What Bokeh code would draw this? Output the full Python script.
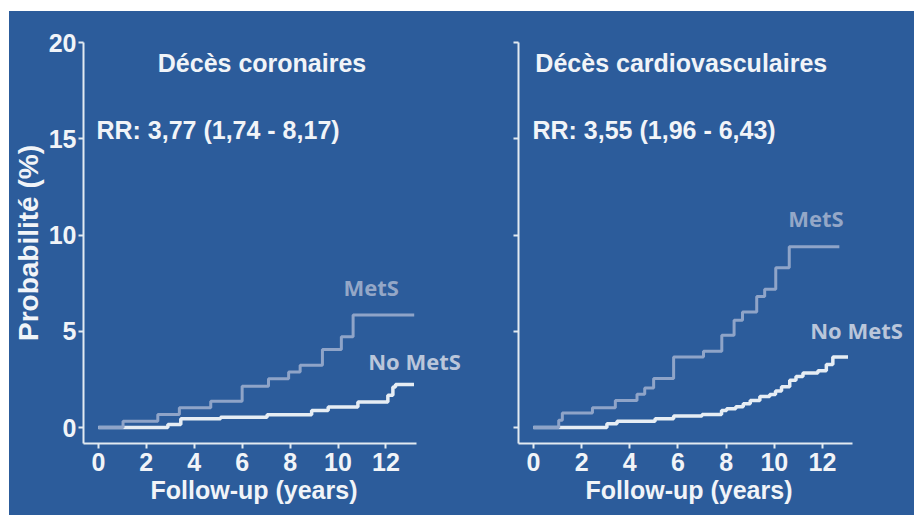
from bokeh.plotting import figure
from bokeh.layouts import row
from bokeh.models import FixedTicker, Label, Range1d, Title
from bokeh.embed import file_html
from bokeh.resources import INLINE

# ---------------- data ----------------
x_ticks = [0, 2, 4, 6, 8, 10, 12]
y_ticks = [0, 5, 10, 15, 20]

# Left panel: Décès coronaires
cor_mets_t = [0, 1.03, 2.48, 3.38, 4.69, 6.0, 7.1, 7.94, 8.42, 9.35, 10.14, 10.63, 13.18]
cor_mets_p = [0, 0.33, 0.68, 1.03, 1.37, 2.15, 2.53, 2.88, 3.23, 4.05, 4.72, 5.84, 5.84]
cor_nomets_t = [0, 2.9, 3.44, 5.1, 7.04, 8.9, 9.59, 10.83, 12.08, 12.29, 12.4, 13.17]
cor_nomets_p = [0, 0.16, 0.45, 0.54, 0.66, 0.89, 1.06, 1.32, 1.67, 2.1, 2.24, 2.24]

# Right panel: Décès cardiovasculaires
cv_mets_t = [0, 1.05, 1.2, 2.45, 3.4, 4.3, 4.62, 4.99, 5.82, 7.06, 7.82, 8.33, 8.68, 9.27, 9.6, 10.06, 10.62, 12.7]
cv_mets_p = [0, 0.38, 0.76, 1.03, 1.41, 1.73, 2.05, 2.55, 3.66, 3.96, 4.79, 5.57, 6.0, 6.8, 7.18, 8.3, 9.39, 9.39]
cv_nomets_t = [0, 3.05, 3.47, 5.05, 5.82, 7.0, 7.81, 8.02, 8.4, 8.71, 9.0, 9.4, 9.81, 10.05, 10.3, 10.64, 10.9, 11.19, 11.81, 12.16, 12.43, 13.06]
cv_nomets_p = [0, 0.2, 0.33, 0.45, 0.6, 0.68, 0.89, 0.97, 1.08, 1.23, 1.4, 1.61, 1.72, 1.9, 2.12, 2.45, 2.65, 2.83, 2.95, 3.28, 3.66, 3.66]

titles = ["Décès coronaires", "Décès cardiovasculaires"]
rr_texts = ["RR: 3,77 (1,74 - 8,17)", "RR: 3,55 (1,96 - 6,43)"]
group_labels = ["MetS", "No MetS"]
x_label = "Follow-up (years)"
y_label = "Probabilité (%)"

# ---------------- style ----------------
BG = "#2C5C9B"
AXIS = "#E2EAF1"
TXT = "#F1F4F8"
METS_LINE = "#8FA4C8"
NOMETS_LINE = "#E6EDF4"
METS_LBL = "#94A7C7"
NOMETS_LBL = "#BAC6DA"
FONT = "Liberation Sans"
H = 504
X_AXIS_END = 13.26


def make_panel(width, left, x_end, show_ylabels):
    p = figure(width=width, height=H, output_backend="svg", toolbar_location=None,
               x_range=Range1d(-0.62, x_end), y_range=Range1d(-0.83, 20.0),
               min_border_left=left, min_border_right=0,
               min_border_top=31, min_border_bottom=72)
    p.background_fill_color = None
    p.border_fill_color = BG
    p.outline_line_color = None
    p.grid.visible = False
    for ax in (p.xaxis[0], p.yaxis[0]):
        ax.axis_line_color = AXIS
        ax.axis_line_width = 2
        ax.major_tick_line_color = AXIS
        ax.major_tick_line_width = 2
        ax.major_tick_in = 0
        ax.major_tick_out = 5
        ax.minor_tick_line_color = None
        ax.major_label_text_color = TXT
        ax.major_label_text_font = FONT
        ax.major_label_text_font_style = "bold"
        ax.major_label_text_font_size = "25px"
        ax.axis_label_text_color = TXT
        ax.axis_label_text_font = FONT
        ax.axis_label_text_font_style = "bold"
        ax.axis_label_text_font_size = "25px"
    p.xaxis.bounds = (-0.62, X_AXIS_END)
    p.xaxis.ticker = FixedTicker(ticks=x_ticks)
    p.yaxis.ticker = FixedTicker(ticks=y_ticks)
    p.xaxis.major_label_standoff = 4
    p.add_layout(Title(text=x_label, align="left", offset=67, standoff=0,
                       text_font=FONT, text_font_style="bold", text_font_size="25px",
                       text_color=TXT), "below")
    if show_ylabels:
        p.yaxis.axis_label = y_label
        p.yaxis.axis_label_text_font_size = "28px"
        p.yaxis.major_label_standoff = 2
        p.yaxis.axis_label_standoff = 2
    else:
        p.yaxis.major_label_overrides = {t: "" for t in y_ticks}
        p.yaxis.major_label_standoff = 0
    return p


def add_text(p, x, y, text, size, color, font=FONT):
    p.add_layout(Label(x=x, y=y, text=text, text_font=font, text_font_style="bold",
                       text_font_size=size, text_color=color, text_baseline="middle",
                       text_align="left", level="overlay"))


p1 = make_panel(456, 71, 15.32, True)
p1.step(cor_nomets_t, cor_nomets_p, mode="after", line_color=NOMETS_LINE, line_width=3.5)
p1.step(cor_mets_t, cor_mets_p, mode="after", line_color=METS_LINE, line_width=3)
add_text(p1, 2.48, 18.96, titles[0], "25px", TXT)
add_text(p1, -0.08, 15.43, rr_texts[0], "25px", TXT)
add_text(p1, 10.23, 7.32, group_labels[0], "22px", METS_LBL, "Open Sans")
add_text(p1, 11.26, 3.48, group_labels[1], "22px", NOMETS_LBL, "Open Sans")

p2 = make_panel(449, 53, 15.82, False)
p2.step(cv_nomets_t, cv_nomets_p, mode="after", line_color=NOMETS_LINE, line_width=3.5)
p2.step(cv_mets_t, cv_mets_p, mode="after", line_color=METS_LINE, line_width=3)
add_text(p2, 0.08, 18.96, titles[1], "25px", TXT)
add_text(p2, -0.04, 15.43, rr_texts[1], "25px", TXT)
add_text(p2, 10.58, 10.9, group_labels[0], "22px", METS_LBL, "Open Sans")
add_text(p2, 11.49, 5.04, group_labels[1], "22px", NOMETS_LBL, "Open Sans")

layout = row(p1, p2, spacing=0, margin=(11, 0, 0, 9), styles={"background-color": BG})
open("out.html", "w").write(file_html(layout, INLINE))
